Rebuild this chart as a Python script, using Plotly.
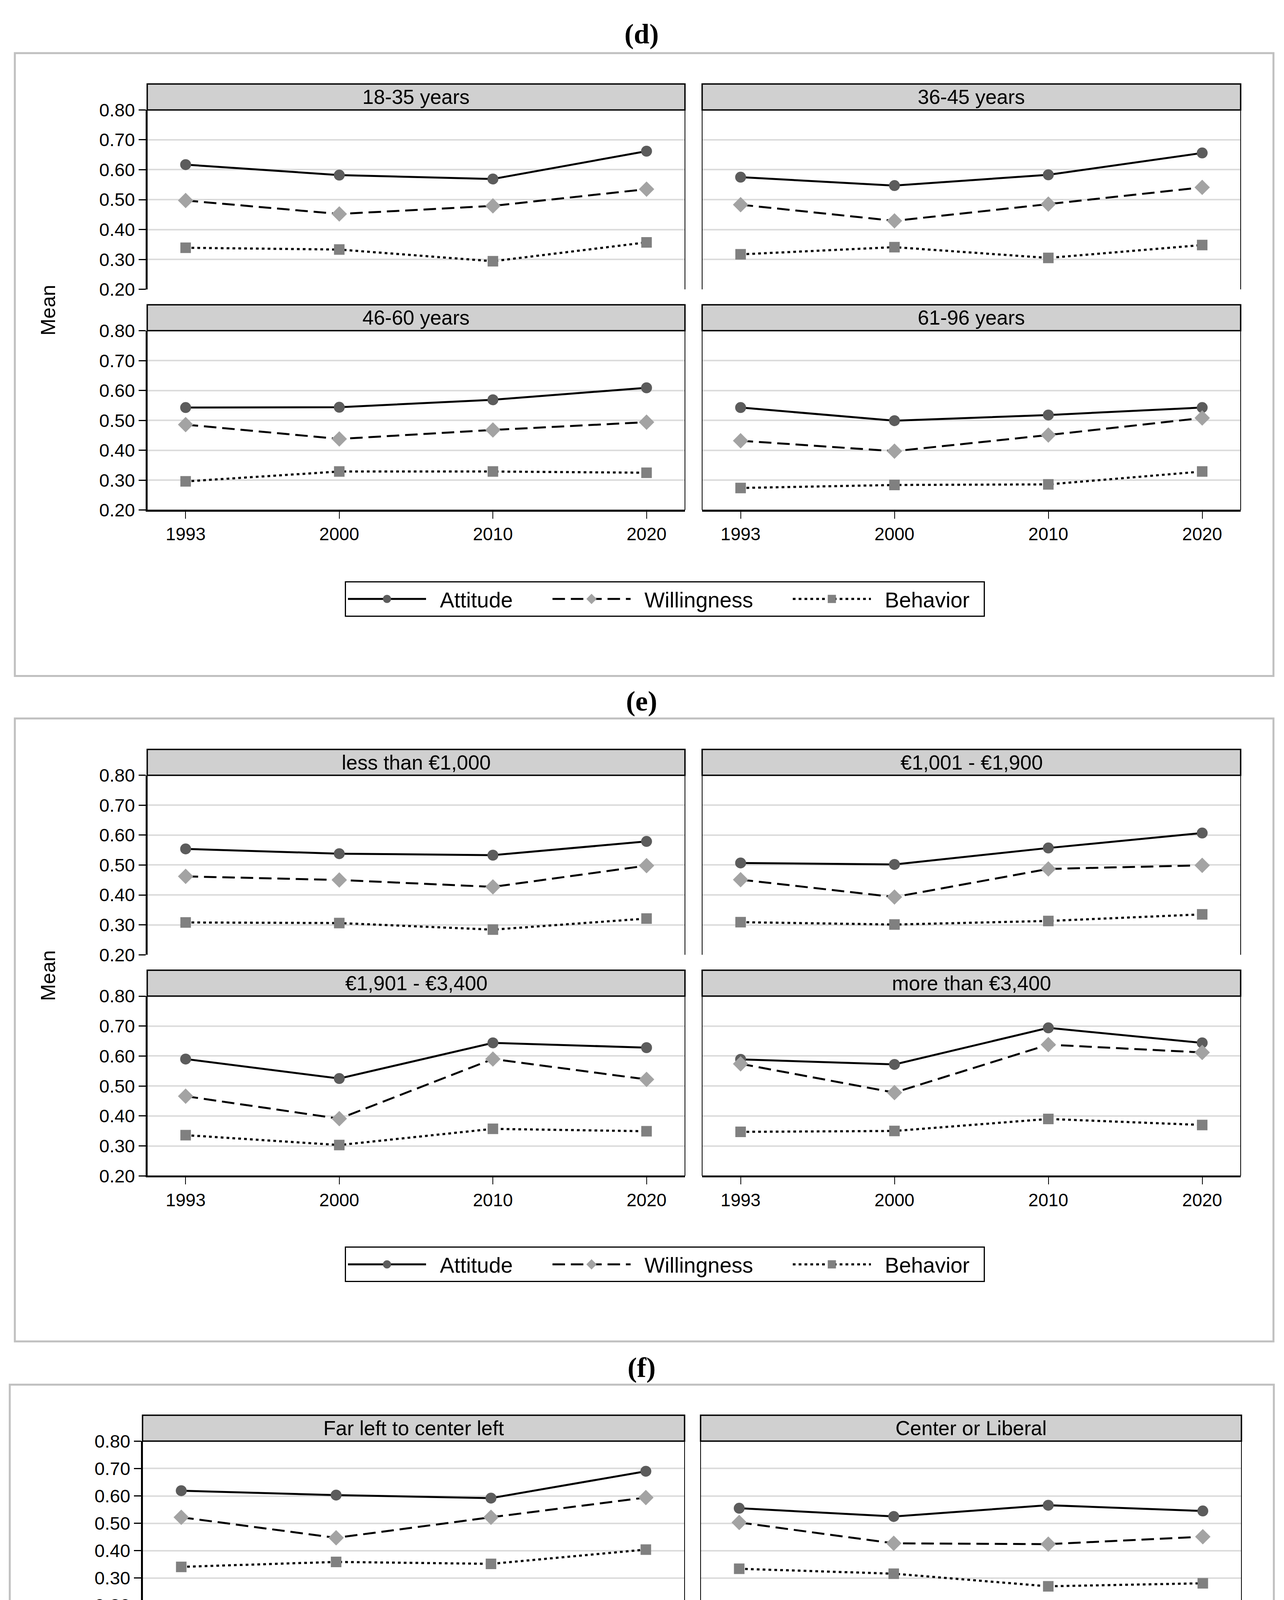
import plotly.graph_objects as go

W, H = 3288, 5204
FONT = "Liberation Sans, Arial, Helvetica, sans-serif"

years = ["1993", "2000", "2010", "2020"]
y_ticks = [0.20, 0.30, 0.40, 0.50, 0.60, 0.70, 0.80]
series_names = ["Attitude", "Willingness", "Behavior"]

# ---- (d) age groups ----
d_groups = ["18-35 years", "36-45 years", "46-60 years", "61-96 years"]
d_attitude = [[0.617, 0.582, 0.569, 0.662],
              [0.575, 0.547, 0.583, 0.656],
              [0.543, 0.544, 0.569, 0.609],
              [0.543, 0.499, 0.518, 0.543]]
d_willingness = [[0.497, 0.452, 0.479, 0.535],
                 [0.483, 0.429, 0.485, 0.541],
                 [0.486, 0.438, 0.468, 0.494],
                 [0.432, 0.397, 0.451, 0.508]]
d_behavior = [[0.339, 0.333, 0.294, 0.357],
              [0.317, 0.341, 0.305, 0.348],
              [0.296, 0.329, 0.329, 0.325],
              [0.274, 0.284, 0.286, 0.329]]

# ---- (e) income groups ----
e_groups = ["less than €1,000", "€1,001 - €1,900", "€1,901 - €3,400", "more than €3,400"]
e_attitude = [[0.554, 0.538, 0.533, 0.579],
              [0.507, 0.502, 0.557, 0.607],
              [0.590, 0.525, 0.644, 0.628],
              [0.589, 0.572, 0.694, 0.644]]
e_willingness = [[0.462, 0.450, 0.427, 0.498],
                 [0.451, 0.393, 0.487, 0.499],
                 [0.466, 0.391, 0.590, 0.522],
                 [0.574, 0.478, 0.638, 0.612]]
e_behavior = [[0.308, 0.306, 0.284, 0.321],
              [0.309, 0.301, 0.313, 0.335],
              [0.336, 0.303, 0.357, 0.349],
              [0.347, 0.350, 0.390, 0.370]]

# ---- (f) political orientation ----
f_groups = ["Far left to center left", "Center or Liberal", "Conservative to far right"]
f_attitude = [[0.619, 0.603, 0.592, 0.690],
              [0.555, 0.525, 0.566, 0.545],
              [0.543, 0.491, 0.545, 0.550]]
f_willingness = [[0.522, 0.447, 0.522, 0.594],
                 [0.503, 0.427, 0.424, 0.451],
                 [0.482, 0.439, 0.462, 0.482]]
f_behavior = [[0.341, 0.359, 0.352, 0.404],
              [0.334, 0.316, 0.270, 0.281],
              [0.284, 0.285, 0.273, 0.296]]

# styles
styles = {
    "Attitude": dict(line=dict(color="black", width=5, dash="solid"),
                     marker=dict(symbol="circle", size=23, color="#5c5c5c",
                                 line=dict(color="#5c5c5c", width=5))),
    "Willingness": dict(line=dict(color="black", width=5, dash="32px,15px"),
                        marker=dict(symbol="diamond", size=26, color="#a3a3a3",
                                    line=dict(color="#a3a3a3", width=4))),
    "Behavior": dict(line=dict(color="black", width=5.5, dash="7px,8px"),
                     marker=dict(symbol="square", size=22, color="#808080",
                                 line=dict(color="#808080", width=5))),
}
NB = "\u00a0"
legend_labels = {"Attitude": NB * 2 + "Attitude" + NB * 6,
                 "Willingness": NB * 2 + "Willingness" + NB * 6,
                 "Behavior": NB * 2 + "Behavior" + NB * 2}

LX0, LX1 = 377, 1754
RX0, RX1 = 1798, 3177
panels = []
for i, (yt, yb) in enumerate([(257, 721), (257, 721), (828, 1292), (828, 1292)]):
    x0, x1 = (LX0, LX1) if i % 2 == 0 else (RX0, RX1)
    panels.append((d_groups[i], d_attitude[i], d_willingness[i], d_behavior[i],
                   x0, x1, yt, yb, i % 2 == 0, i >= 2, "legend", i == 0))
for i, (yt, yb) in enumerate([(1978, 2442), (1978, 2442), (2549, 3014), (2549, 3014)]):
    x0, x1 = (LX0, LX1) if i % 2 == 0 else (RX0, RX1)
    panels.append((e_groups[i], e_attitude[i], e_willingness[i], e_behavior[i],
                   x0, x1, yt, yb, i % 2 == 0, i >= 2, "legend2", i == 0))
f_boxes = [(365, 1753, 3700, 4125, True, False),
           (1794, 3179, 3700, 4125, False, True),
           (365, 1753, 4318, 4742, True, True)]
for i, (x0, x1, yt, yb, left, bottom) in enumerate(f_boxes):
    panels.append((f_groups[i], f_attitude[i], f_willingness[i], f_behavior[i],
                   x0, x1, yt, yb, left, bottom, "legend3", i == 0))

fig = go.Figure()
layout = dict(width=W, height=H, margin=dict(l=0, r=0, t=0, b=0),
              paper_bgcolor="white", plot_bgcolor="white", showlegend=True)
shapes = []
annotations = []
STRIP = 67

for k, (label, att, wil, beh, x0, x1, yt, yb, left, bottom, leg, showleg) in enumerate(panels, start=1):
    xa = "x" if k == 1 else f"x{k}"
    ya = "y" if k == 1 else f"y{k}"
    xname = "xaxis" if k == 1 else f"xaxis{k}"
    yname = "yaxis" if k == 1 else f"yaxis{k}"
    for name, vals in zip(series_names, [att, wil, beh]):
        fig.add_trace(go.Scatter(x=years, y=vals, name=legend_labels[name],
                                 mode="lines+markers",
                                 xaxis=xa, yaxis=ya, legend=leg, showlegend=showleg,
                                 cliponaxis=False, **styles[name]))
    layout[xname] = dict(domain=[x0 / W, x1 / W], anchor=ya, type="category",
                         categoryorder="array", categoryarray=years,
                         range=[-0.25, 3.25], showgrid=False, zeroline=False,
                         showline=bottom, linecolor="black", linewidth=4,
                         ticks="outside" if bottom else "", ticklen=18, tickwidth=2,
                         tickcolor="black", showticklabels=bottom,
                         tickfont=dict(family=FONT, size=46, color="black"))
    layout[yname] = dict(domain=[1 - yb / H, 1 - yt / H], anchor=xa,
                         range=[0.2, 0.8], tickvals=y_ticks, tickformat=".2f",
                         showgrid=True, gridcolor="#dcdcdc", gridwidth=4, zeroline=False,
                         showline=left, linecolor="black", linewidth=4,
                         ticks="outside" if left else "", ticklen=18, tickwidth=3,
                         tickcolor="black", showticklabels=left,
                         tickfont=dict(family=FONT, size=47, color="black"))
    ph = yb - yt
    sh = STRIP / ph
    xr = f"{xa} domain"
    yr = f"{ya} domain"
    for (a0, b0, a1, b1) in [(0, 0, 0, 1), (1, 0, 1, 1), (0, 1, 1, 1)]:
        shapes.append(dict(type="line", xref=xr, yref=yr, x0=a0, y0=b0, x1=a1, y1=b1,
                           line=dict(color="black", width=2)))
    if bottom:
        shapes.append(dict(type="line", xref=xr, yref=yr, x0=0, y0=0, x1=1, y1=0,
                           line=dict(color="black", width=2)))
    shapes.append(dict(type="rect", xref=xr, yref=yr, x0=0, x1=1, y0=1, y1=1 + sh,
                       fillcolor="#d0d0d0", line=dict(color="black", width=3.5)))
    annotations.append(dict(text=label, xref=xr, yref=yr, x=0.5, y=1 + sh / 2,
                            showarrow=False, xanchor="center", yanchor="middle",
                            font=dict(family=FONT, size=52, color="black")))

for (x0, x1, y0, y1) in [(38, 3261, 110, 1721), (38, 3261, 1831, 3442), (25, 3262, 3554, 5173)]:
    shapes.append(dict(type="rect", xref="paper", yref="paper", x0=x0 / W, x1=x1 / W,
                       y0=1 - y1 / H, y1=1 - y0 / H, layer="below",
                       line=dict(color="#c0c0c0", width=5), fillcolor="rgba(0,0,0,0)"))

for txt, yc in [("(d)", 61), ("(e)", 1786), ("(f)", 3510)]:
    annotations.append(dict(text=f"<b>{txt}</b>", xref="paper", yref="paper",
                            x=1643 / W, y=1 - yc / H, showarrow=False,
                            xanchor="center", yanchor="middle",
                            font=dict(family="Liberation Serif, Times New Roman, serif",
                                      size=72, color="black")))
for xc, yc in [(123, 775), (123, 2496), (112, 4225)]:
    annotations.append(dict(text="Mean", xref="paper", yref="paper", x=xc / W,
                            y=1 - yc / H, showarrow=False, textangle=-90,
                            xanchor="center", yanchor="middle",
                            font=dict(family=FONT, size=52, color="black")))

leg_common = dict(orientation="h", xanchor="left", yanchor="middle", bgcolor="white",
                  bordercolor="black", borderwidth=3, itemwidth=200, itemsizing="trace",
                  font=dict(family=FONT, size=55, color="black"))
layout["legend"] = dict(x=883 / W, y=1 - 1522 / H, **leg_common)
layout["legend2"] = dict(x=883 / W, y=1 - 3243 / H, **leg_common)
layout["legend3"] = dict(x=878 / W, y=1 - 4975 / H, **leg_common)

layout["shapes"] = shapes
layout["annotations"] = annotations
fig.update_layout(**layout)
fig.write_html("out.html", config={"displayModeBar": False},
               post_script="document.body.style.margin='0px';")
